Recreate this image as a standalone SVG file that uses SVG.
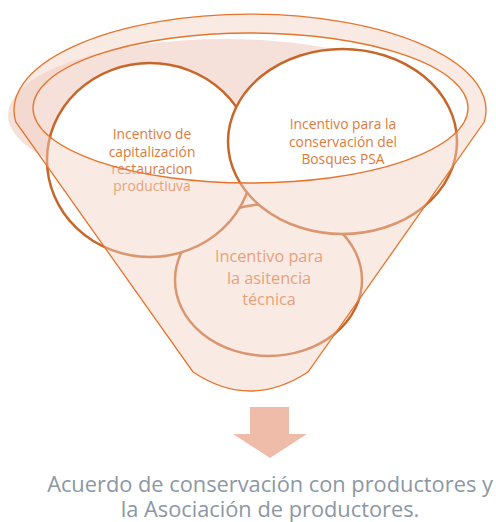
<svg xmlns="http://www.w3.org/2000/svg" width="496" height="522" viewBox="0 0 496 522">
<style>
.bg{fill:#ffffff}
.shadow{fill:#f6e1da}
.circ{fill:#ffffff;stroke:#c8662a;stroke-width:2.5}
.funnel{fill:#f2d0c4;fill-opacity:0.45;fill-rule:evenodd;stroke:#e6742c;stroke-width:1.3}
.lbl{font-family:"Open Sans","Liberation Sans",sans-serif;font-size:13.8px;fill:#e07a3a;text-anchor:middle}
.lbl2{font-family:"Open Sans","Liberation Sans",sans-serif;font-size:16.3px;fill:#e07a3a;text-anchor:middle}
.cap{font-family:"Open Sans","Liberation Sans",sans-serif;font-size:21.8px;fill:#8c97a4;text-anchor:middle}
.arrow{fill:#efbcaa}
</style>
<rect class="bg" x="0" y="0" width="496" height="522"/>
<ellipse class="shadow" cx="225" cy="115" rx="217" ry="76"/>
<g id="node-asistencia">
<ellipse class="circ" cx="268.5" cy="280" rx="93.5" ry="76"/>
<text class="lbl2" x="269" y="262">Incentivo para</text>
<text class="lbl2" x="269" y="283.5">la asitencia</text>
<text class="lbl2" x="269" y="305">técnica</text>
</g>
<g id="node-capitalizacion">
<ellipse class="circ" cx="150" cy="160" rx="103" ry="97"/>
<text class="lbl" x="152" y="138.5">Incentivo de</text>
<text class="lbl" x="152" y="156.5">capitalización</text>
<text class="lbl" x="152" y="174">restauracion</text>
<text class="lbl" x="152" y="191">productiuva</text>
</g>
<g id="node-psa">
<ellipse class="circ" cx="342.5" cy="141.5" rx="114.5" ry="92.5"/>
<text class="lbl" x="343" y="128.5">Incentivo para la</text>
<text class="lbl" x="343" y="146.5">conservación del</text>
<text class="lbl" x="343" y="164">Bosques PSA</text>
</g>
<g id="node-funnel">
<path class="funnel" d="M15.8 122 A236 96 0 1 1 484.2 122 L308 372 Q250 410 193 372 Z M33 108 A217.5 75 0 1 0 468 108 A217.5 75 0 1 0 33 108 Z"/>
</g>
<g id="connectors">
<polygon class="arrow" points="250,407 289,407 289,434 307,434 270,458 233,434 250,434"/>
</g>
<g id="node-result">
<text class="cap" x="270" y="492">Acuerdo de conservación con productores y</text>
<text class="cap" x="270" y="517">la Asociación de productores.</text>
</g>
</svg>
